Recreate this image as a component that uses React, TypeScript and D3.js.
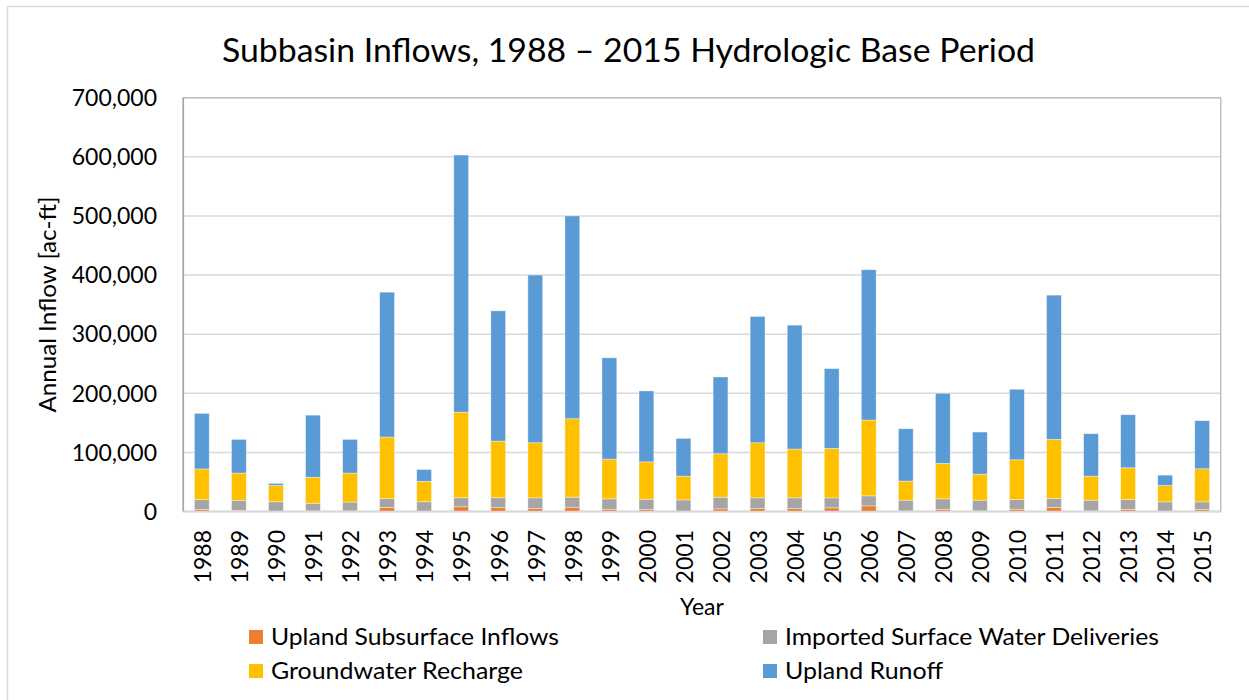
import React from "react";
import * as d3 from "d3";

const years = ["1988","1989","1990","1991","1992","1993","1994","1995","1996","1997","1998","1999","2000","2001","2002","2003","2004","2005","2006","2007","2008","2009","2010","2011","2012","2013","2014","2015"];

const uplandSubsurface = [3500,2000,500,1000,1000,7000,500,8000,6500,5000,7300,3900,3300,500,4500,5000,5000,6200,9500,1000,3300,1000,3900,6700,1000,3300,500,3300];
const importedSurface = [16500,17000,16000,13000,15000,14700,16000,15300,16800,18100,16900,17500,17500,19200,19700,18100,18100,16900,17000,18200,18100,18200,16400,15300,18200,17000,15800,13000];
const groundwaterRecharge = [52000,46000,27500,44000,49000,104300,34500,144700,95700,93200,132800,67200,63200,40100,73500,93200,82500,83600,128200,32200,59900,44000,67200,100000,40600,53700,27700,56000];
const uplandRunoff = [94000,57000,3500,105000,57000,245000,20000,435000,220500,283700,343000,171400,120000,63900,129900,213700,209700,135000,254300,88600,118700,71200,119300,244000,71800,89700,17500,81300];

const seriesNames = ["Upland Subsurface Inflows","Imported Surface Water Deliveries","Groundwater Recharge","Upland Runoff"];
const seriesColors = ["#ED7D31","#A5A5A5","#FFC000","#5B9BD5"];
const yTicks = [0,100000,200000,300000,400000,500000,600000,700000];

const W = 1249, H = 700;
const PL = 183.3, PR = 1220.7, PT = 97.7, PB = 511.5;
const FONT = "Lato, 'Open Sans', sans-serif";

export default function App() {
  const x = d3.scaleBand<string>().domain(years).range([PL, PR]).paddingInner(0.6).paddingOuter(0.3);
  const y = d3.scaleLinear().domain([0, 700000]).range([PB, PT]);
  const rows = years.map((yr, i) => ({
    year: yr,
    s0: uplandSubsurface[i],
    s1: importedSurface[i],
    s2: groundwaterRecharge[i],
    s3: uplandRunoff[i],
  }));
  const stack = d3.stack<any>().keys(["s0","s1","s2","s3"]);
  const layers = stack(rows);
  const fmt = d3.format(",");

  const legendItems = [
    { name: seriesNames[0], color: seriesColors[0], x: 249, y: 637, len: 288 },
    { name: seriesNames[1], color: seriesColors[1], x: 763, y: 637, len: 374 },
    { name: seriesNames[2], color: seriesColors[2], x: 249, y: 671, len: 252 },
    { name: seriesNames[3], color: seriesColors[3], x: 763, y: 671, len: 158 },
  ];

  return (
    <svg width={W} height={H} style={{ position: "absolute", left: 0, top: 0, background: "#fff" }} fontFamily={FONT}>
      <rect x={0} y={0} width={W} height={H} fill="#fff" />
      {/* outer chart border */}
      <line x1={7.5} y1={6.5} x2={W} y2={6.5} stroke="#d9d9d9" strokeWidth={1.5} />
      <line x1={7.5} y1={6.5} x2={7.5} y2={H} stroke="#d9d9d9" strokeWidth={1.5} />

      <text x={628.5} y={62} fontSize={33} textAnchor="middle" fill="#000" textLength={813} lengthAdjust="spacingAndGlyphs">
        Subbasin Inflows, 1988 – 2015 Hydrologic Base Period
      </text>

      {/* gridlines */}
      {yTicks.map((t) => (
        <line key={"g" + t} x1={PL} x2={PR} y1={y(t)} y2={y(t)} stroke="#d9d9d9" strokeWidth={1.5} />
      ))}
      {/* plot border */}
      <rect x={PL} y={PT} width={PR - PL} height={PB - PT} fill="none" stroke="#bfbfbf" strokeWidth={1.5} />

      {/* bars */}
      {layers.map((layer, li) => (
        <g key={"l" + li} fill={seriesColors[li]}>
          {layer.map((d: any, i: number) => (
            <rect
              key={i}
              x={x(years[i])}
              width={x.bandwidth()}
              y={y(d[1])}
              height={Math.max(0, y(d[0]) - y(d[1]))}
              stroke="#ffffff"
              strokeOpacity={0.5}
              strokeWidth={0.75}
            />
          ))}
        </g>
      ))}

      {/* axes lines */}
      <line x1={PL} x2={PL} y1={PT} y2={PB} stroke="#a6a6a6" strokeWidth={1.5} />
      <line x1={PL} x2={PR} y1={PB} y2={PB} stroke="#d9d9d9" strokeWidth={1.5} />

      {/* y tick labels */}
      {yTicks.map((t) => (
        <text key={"t" + t} x={157} y={y(t)} dy="0.36em" fontSize={23} textAnchor="end" fill="#000">
          {fmt(t)}
        </text>
      ))}

      {/* x tick labels */}
      {years.map((yr) => (
        <text
          key={"x" + yr}
          transform={`translate(${(x(yr) as number) + x.bandwidth() / 2 + 1},530) rotate(-90)`}
          dy="0.36em"
          fontSize={23}
          textAnchor="end"
          fill="#000"
        >
          {yr}
        </text>
      ))}

      {/* axis titles */}
      <text transform={`translate(48,${(PT + PB) / 2}) rotate(-90)`} dy="0.36em" fontSize={23} textAnchor="middle" fill="#000" textLength={216} lengthAdjust="spacingAndGlyphs">
        Annual Inflow [ac-ft]
      </text>
      <text x={(PL + PR) / 2} y={607} dy="0.36em" fontSize={23} textAnchor="middle" fill="#000">
        Year
      </text>

      {/* legend */}
      {legendItems.map((it) => (
        <g key={it.name}>
          <rect x={it.x} y={it.y - 7} width={14} height={14} fill={it.color} />
          <text x={it.x + 22} y={it.y} dy="0.36em" fontSize={23} fill="#000" textLength={it.len} lengthAdjust="spacingAndGlyphs">
            {it.name}
          </text>
        </g>
      ))}
    </svg>
  );
}
